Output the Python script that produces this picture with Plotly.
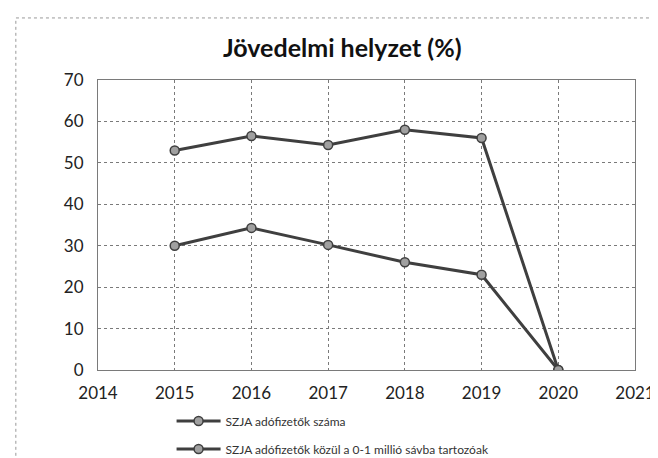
import plotly.graph_objects as go

years = [2015, 2016, 2017, 2018, 2019, 2020]
szja_szama = [53, 56.5, 54.3, 58, 56, 0]
szja_0_1_millio = [30, 34.3, 30.2, 26, 23, 0]
series_names = ["SZJA adófizetők száma", "SZJA adófizetők közül a 0-1 millió sávba tartozóak"]
x_ticks = [2014, 2015, 2016, 2017, 2018, 2019, 2020, 2021]
y_ticks = [0, 10, 20, 30, 40, 50, 60, 70]

fig = go.Figure()
for i, (name, vals) in enumerate(zip(series_names, [szja_szama, szja_0_1_millio])):
    fig.add_trace(go.Scatter(
        x=years, y=vals, name=name, mode="lines+markers",
        legendgroup=f"g{i}",
        line=dict(color="#3f3f3f", width=3),
        marker=dict(symbol="circle", size=9, color="#a0a0a0",
                    line=dict(color="#3f3f3f", width=1.5)),
    ))

grid = dict(showgrid=True, gridcolor="#7a7a7a", griddash="dot", gridwidth=1,
            showline=True, linecolor="#7a7a7a", mirror=True, zeroline=False,
            ticks="", tickfont=dict(size=17, color="#222", family="Lato"))

fig.update_layout(
    width=658, height=458,
    paper_bgcolor="white", plot_bgcolor="white",
    margin=dict(l=90, r=31, t=72, b=96, autoexpand=False),
    title=dict(text="<b>Jövedelmi helyzet (%)</b>", x=0.508, xanchor="center",
               xref="container", yref="container", y=0.912, yanchor="middle",
               font=dict(size=25, color="#111", family="Lato")),
    xaxis=dict(range=[2014, 2021], tickvals=x_ticks, ticklabelstandoff=8, **grid),
    yaxis=dict(range=[0, 70], tickvals=y_ticks, ticklabelstandoff=10, **grid),
    legend=dict(x=0.137, y=-0.126, xanchor="left", yanchor="top",
                font=dict(size=12, color="#333", family="Lato"),
                tracegroupgap=9, itemwidth=44, bgcolor="rgba(0,0,0,0)"),
    showlegend=True,
)
fig.add_shape(type="rect", xref="paper", yref="paper",
              x0=-0.153, x1=1.056, y0=-0.34, y1=1.214,
              line=dict(color="#999", width=1, dash="dot"))

fig.write_html("out.html")
